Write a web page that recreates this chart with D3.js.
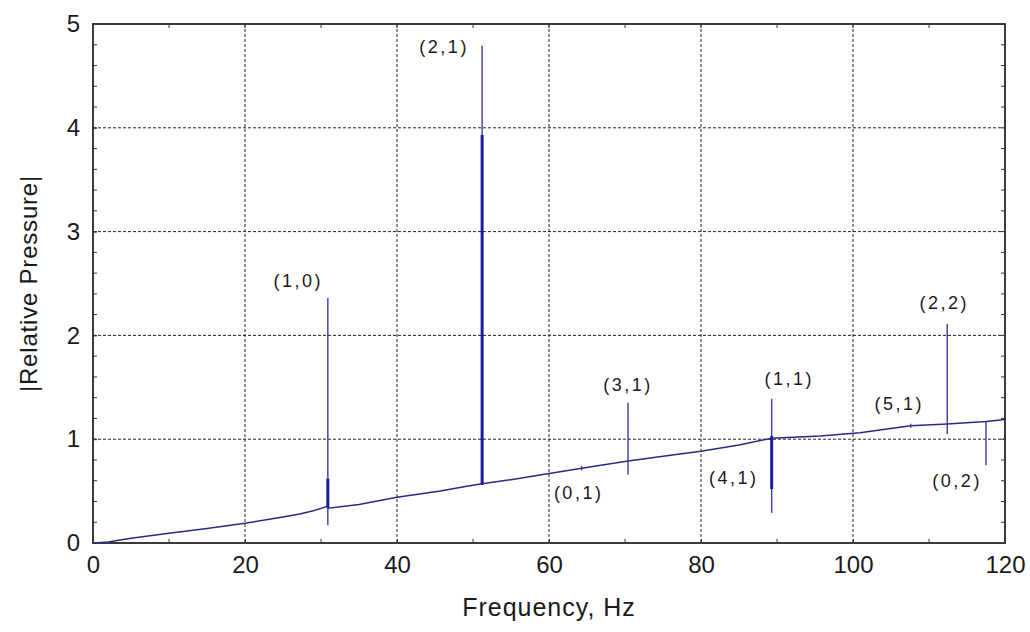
<!DOCTYPE html>
<html>
<head>
<meta charset="utf-8">
<script src="https://cdn.jsdelivr.net/npm/d3@7"></script>
<style>
  body { margin: 0; background: #fff; }
  text { font-family: "Liberation Sans", Arial, sans-serif; fill: #1a1a1a; }
</style>
</head>
<body>
<div id="vis"></div>
<script>
/* Datos */

// curva base de la respuesta (Hz, |p|)
const baseFreq = [0, 2, 5, 10, 15, 20, 25, 27.2, 29, 30.9, 30.95, 35, 40, 45.7, 49, 51.2, 55, 58.8, 64.3, 70.4, 77.2, 80, 85, 89.3, 95.7, 100.9, 107.6, 112.4, 117.5, 120];
const baseVal  = [0, 0.01, 0.045, 0.095, 0.14, 0.19, 0.25, 0.28, 0.31, 0.355, 0.335, 0.37, 0.44, 0.50, 0.545, 0.57, 0.61, 0.655, 0.72, 0.79, 0.857, 0.885, 0.945, 1.01, 1.03, 1.063, 1.13, 1.146, 1.17, 1.19];

// picos de resonancia (línea fina)
const spikeFreq = [30.9, 51.2, 64.3, 70.4, 89.3, 107.6, 112.4, 117.5];
const spikeHi   = [2.36, 4.79, 0.74, 1.35, 1.39, 1.15, 2.11, 1.17];
const spikeLo   = [0.17, 0.56, 0.70, 0.66, 0.29, 1.11, 1.05, 0.75];

// tramos densos (línea gruesa)
const thickFreq = [30.9, 51.2, 89.3];
const thickHi   = [0.62, 3.93, 1.03];
const thickLo   = [0.34, 0.56, 0.52];

// etiquetas de modos
const modeLabel = ["(1,0)", "(2,1)", "(0,1)", "(3,1)", "(1,1)", "(4,1)", "(5,1)", "(2,2)", "(0,2)"];
const modeX     = [27.0, 46.2, 63.9, 70.4, 91.6, 84.3, 106.1, 112.0, 113.7];
const modeY     = [2.52, 4.78, 0.48, 1.52, 1.58, 0.63, 1.34, 2.31, 0.60];

const xMajor = [0, 20, 40, 60, 80, 100, 120];
const xMinor = [10, 30, 50, 70, 90, 110];
const yMajor = [0, 1, 2, 3, 4, 5];
const yMinor = d3.range(0, 26).map(i => i / 5);

/* Tamaños */
const WIDTH = 1030;
const HEIGHT = 632;
const margin = { top: 24, right: 25, bottom: 89, left: 93 };
const width = WIDTH - margin.left - margin.right;
const height = HEIGHT - margin.top - margin.bottom;

const svg = d3.select("#vis").append("svg")
    .attr("width", WIDTH)
    .attr("height", HEIGHT);

svg.append("rect").attr("width", WIDTH).attr("height", HEIGHT).attr("fill", "#fff");

const g = svg.append("g").attr("transform", `translate(${margin.left},${margin.top})`);

const x = d3.scaleLinear().domain([0, 120]).range([0, width]);
const y = d3.scaleLinear().domain([0, 5]).range([height, 0]);

// grilla punteada
g.append("g")
    .selectAll("line.vg")
    .data(xMajor.filter(d => d > 0 && d < 120))
    .join("line")
    .attr("x1", d => x(d)).attr("x2", d => x(d))
    .attr("y1", 0).attr("y2", height)
    .attr("stroke", "#222").attr("stroke-width", 1).attr("stroke-dasharray", "3,2");

g.append("g")
    .selectAll("line.hg")
    .data(yMajor.filter(d => d > 0 && d < 5))
    .join("line")
    .attr("x1", 0).attr("x2", width)
    .attr("y1", d => y(d)).attr("y2", d => y(d))
    .attr("stroke", "#222").attr("stroke-width", 1).attr("stroke-dasharray", "3,2");

// ejes con ticks hacia adentro
const xAxis = d3.axisBottom(x).tickValues(xMajor).tickFormat(d3.format("d"))
    .tickSizeInner(-4).tickSizeOuter(0).tickPadding(13);
const yAxis = d3.axisLeft(y).tickValues(yMajor).tickFormat(d3.format("d"))
    .tickSizeInner(-4).tickSizeOuter(0).tickPadding(13);

const gx = g.append("g").attr("transform", `translate(0,${height})`).call(xAxis);
const gy = g.append("g").call(yAxis);

[gx, gy].forEach(a => {
    a.select(".domain").remove();
    a.selectAll(".tick line").attr("stroke", "#333");
    a.selectAll("text").attr("font-size", 24).attr("fill", "#1a1a1a");
});

// ticks menores
g.append("g").selectAll("line")
    .data(xMinor.concat(xMajor))
    .join("line")
    .attr("x1", d => x(d)).attr("x2", d => x(d))
    .attr("y1", 0).attr("y2", 4)
    .attr("stroke", "#333");
g.append("g").selectAll("line")
    .data(xMinor)
    .join("line")
    .attr("x1", d => x(d)).attr("x2", d => x(d))
    .attr("y1", height).attr("y2", height - 4)
    .attr("stroke", "#333");
g.append("g").selectAll("line")
    .data(yMinor)
    .join("line")
    .attr("x1", 0).attr("x2", 4)
    .attr("y1", d => y(d)).attr("y2", d => y(d))
    .attr("stroke", "#333");
g.append("g").selectAll("line")
    .data(yMinor)
    .join("line")
    .attr("x1", width).attr("x2", width - 4)
    .attr("y1", d => y(d)).attr("y2", d => y(d))
    .attr("stroke", "#333");

// marco
g.append("rect")
    .attr("width", width).attr("height", height)
    .attr("fill", "none").attr("stroke", "#3a3a3a").attr("stroke-width", 2);

// curva
const line = d3.line().x(d => x(d[0])).y(d => y(d[1]));
const basePts = baseFreq.map((f, i) => [f, baseVal[i]]);

g.append("path")
    .datum(basePts)
    .attr("d", line)
    .attr("fill", "none")
    .attr("stroke", "#2a2a80")
    .attr("stroke-width", 1.5);

g.append("g").selectAll("path")
    .data(spikeFreq.map((f, i) => [[f, spikeLo[i]], [f, spikeHi[i]]]))
    .join("path")
    .attr("d", line)
    .attr("stroke", "#3c3c9a")
    .attr("stroke-width", 1.4);

g.append("g").selectAll("path")
    .data(thickFreq.map((f, i) => [[f, thickLo[i]], [f, thickHi[i]]]))
    .join("path")
    .attr("d", line)
    .attr("stroke", "#1a1aa0")
    .attr("stroke-width", 3);

// etiquetas
g.append("g").selectAll("text")
    .data(modeLabel)
    .join("text")
    .attr("x", (d, i) => x(modeX[i]))
    .attr("y", (d, i) => y(modeY[i]))
    .attr("text-anchor", "middle")
    .attr("dominant-baseline", "central")
    .attr("font-size", 18)
    .attr("letter-spacing", 2.5)
    .text(d => d);

// títulos de ejes
svg.append("text")
    .attr("x", margin.left + width / 2)
    .attr("y", 616)
    .attr("text-anchor", "middle")
    .attr("font-size", 25)
    .attr("letter-spacing", 1)
    .text("Frequency, Hz");

svg.append("text")
    .attr("transform", `translate(37,${margin.top + height / 2}) rotate(-90)`)
    .attr("text-anchor", "middle")
    .attr("font-size", 24)
    .attr("letter-spacing", 0.8)
    .text("|Relative Pressure|");
</script>
</body>
</html>
